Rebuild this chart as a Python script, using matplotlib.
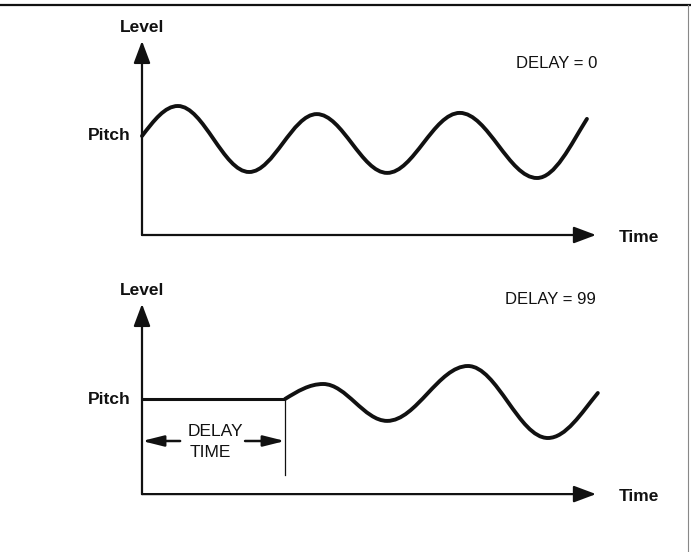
import matplotlib.pyplot as plt
from matplotlib.lines import Line2D
from matplotlib.patches import PathPatch
from matplotlib.path import Path

plt.rcParams["font.family"] = ["Liberation Sans", "DejaVu Sans"]

INK = "#111111"

# time runs 0..10 along each axis, level is measured from the pitch (0)
TIME_END = 10.0

# DELAY = 0 : wave key points (start, peaks/troughs, end)
top_time = [0.0, 0.79, 2.36, 3.85, 5.40, 7.00, 8.70, 9.80]
top_level = [0.0, 1.0, -1.2, 0.73, -1.23, 0.77, -1.4, 0.57]
top_axis_min = -3.3
top_axis_max = 3.17

# DELAY = 99 : flat pitch until the delay time, then the wave
delay_time = 3.15
bottom_time = [3.15, 3.99, 5.40, 7.18, 8.94, 10.04]
bottom_level = [0.0, 0.5, -0.73, 1.1, -1.3, 0.2]
bottom_axis_min = -3.17
bottom_axis_max = 3.17
delay_marker_bottom = -2.53
delay_arrow_level = -1.4
delay_arrow_tails = [0.84, 2.27]

labels_top = {"delay": "DELAY = 0"}
labels_bottom = {"delay": "DELAY = 99"}


def wave_path(ts, ls):
    """Smooth path through the key points (horizontal tangents at extrema)."""
    verts = [(ts[0], ls[0])]
    codes = [Path.MOVETO]
    n = len(ts)
    for i in range(n - 1):
        x0, y0, x1, y1 = ts[i], ls[i], ts[i + 1], ls[i + 1]
        dx, dy = x1 - x0, y1 - y0
        if i == 0:
            c1 = (x0 + dx / 3, y0 + dy * 0.52)
        else:
            c1 = (x0 + 0.36 * dx, y0)
        if i == n - 2:
            c2 = (x1 - dx / 3, y1 - dy * 0.45)
        else:
            c2 = (x1 - 0.36 * dx, y1)
        verts += [c1, c2, (x1, y1)]
        codes += [Path.CURVE4] * 3
    return Path(verts, codes)


def draw_axes(ax, ymin, ymax):
    style = "-|>,head_length=0.8,head_width=0.3"
    kw = dict(arrowstyle=style, mutation_scale=17, lw=1.6, color=INK,
              shrinkA=0, shrinkB=0)
    ax.annotate("", xy=(0, ymax), xytext=(0, ymin), arrowprops=kw)
    ax.annotate("", xy=(TIME_END, ymin), xytext=(0, ymin), arrowprops=kw)
    txt = dict(fontsize=12.5, fontweight="bold", color=INK, va="center")
    ax.text(0, ymax + 0.45, "Level", ha="center", **txt)
    ax.text(TIME_END + 0.5, ymin - 0.08, "Time", ha="left", **txt)
    ax.text(-0.24, 0, "Pitch", ha="right", **txt)


fig = plt.figure(figsize=(6.91, 5.52), dpi=100)

# pixel layout: time axis origin at x=142 px, 45.4 px per time unit, 30 px per level unit
xlim = (-142 / 45.4, (691 - 142) / 45.4)

ax_top = fig.add_axes([0, 0.5, 1, 0.5])
ax_top.set_xlim(*xlim)
ax_top.set_ylim((136 - 276) / 30, 136 / 30)
ax_top.axis("off")
draw_axes(ax_top, top_axis_min, top_axis_max)
ax_top.add_patch(PathPatch(wave_path(top_time, top_level), fill=False, lw=2.8,
                           color=INK, capstyle="round", joinstyle="round"))
ax_top.text(9.14, 2.4, labels_top["delay"], ha="center", va="center", fontsize=12, color=INK)

ax_bot = fig.add_axes([0, 0, 1, 0.5])
ax_bot.set_xlim(*xlim)
ax_bot.set_ylim((399 - 552) / 30, (399 - 276) / 30)
ax_bot.axis("off")
draw_axes(ax_bot, bottom_axis_min, bottom_axis_max)
ax_bot.plot([0, delay_time], [0, 0], color=INK, lw=2.2, solid_capstyle="butt")
ax_bot.plot([delay_time, delay_time], [0, delay_marker_bottom], color=INK, lw=0.9)
ax_bot.add_patch(PathPatch(wave_path(bottom_time, bottom_level), fill=False, lw=2.8,
                           color=INK, capstyle="round", joinstyle="round"))
ax_bot.text(8.99, 3.3, labels_bottom["delay"], ha="center", va="center", fontsize=12, color=INK)

arrow_kw = dict(arrowstyle="-|>,head_length=1.0,head_width=0.25", mutation_scale=13,
                lw=1.8, color=INK, shrinkA=0, shrinkB=0)
ax_bot.annotate("", xy=(0, delay_arrow_level), xytext=(delay_arrow_tails[0], delay_arrow_level),
                arrowprops=arrow_kw)
ax_bot.annotate("", xy=(delay_time, delay_arrow_level), xytext=(delay_arrow_tails[1], delay_arrow_level),
                arrowprops=arrow_kw)
ax_bot.text(1.01, -1.07, "DELAY", ha="left", va="center", fontsize=12.5, color=INK)
ax_bot.text(1.05, -1.77, "TIME", ha="left", va="center", fontsize=12.5, color=INK)

# page edges of the scanned figure
fig.add_artist(Line2D([0, 1], [1 - 5 / 552, 1 - 5 / 552], color=INK, lw=1.6))
fig.add_artist(Line2D([688 / 691, 688 / 691], [0, 1 - 5 / 552], color="#888888", lw=0.8))

fig.savefig("out.png", dpi=100)
